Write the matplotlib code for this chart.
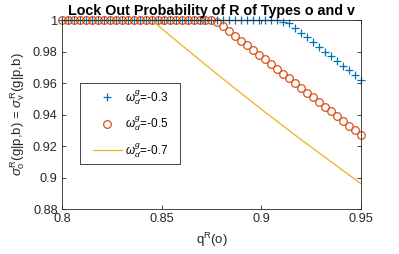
import numpy as np
import matplotlib
matplotlib.use("Agg")
import matplotlib.pyplot as plt
from matplotlib.patches import Rectangle

plt.rcParams['font.family'] = ['Liberation Sans', 'DejaVu Sans']
plt.rcParams['mathtext.fontset'] = 'custom'
plt.rcParams['mathtext.rm'] = 'Liberation Sans'
plt.rcParams['mathtext.it'] = 'Liberation Sans:italic'

# q^R(o) grid, 51 points from 0.8 to 0.95
q = np.linspace(0.8, 0.95, 51)

# omega_d^g = -0.3
lock_03 = [1.0] * 37 + [0.999, 0.998, 0.995, 0.992, 0.989, 0.986, 0.983, 0.980,
                        0.977, 0.974, 0.971, 0.968, 0.965, 0.962]
lock_03 = lock_03[-51:]

# omega_d^g = -0.5
lock_05 = [1.0] * 26 + [0.999, 0.996, 0.993, 0.990, 0.987, 0.984, 0.981, 0.978,
                        0.975, 0.972, 0.969, 0.966, 0.963, 0.960, 0.957, 0.954,
                        0.951, 0.948, 0.945, 0.942, 0.939, 0.936, 0.933, 0.930,
                        0.927]

# omega_d^g = -0.7
lock_07 = [1.0] * 16 + [0.9968, 0.9936, 0.9904, 0.9873, 0.9841, 0.9810, 0.9779,
                        0.9748, 0.9717, 0.9686, 0.9655, 0.9624, 0.9594, 0.9564,
                        0.9534, 0.9504, 0.9474, 0.9444, 0.9414, 0.9385, 0.9356,
                        0.9327, 0.9298, 0.9269, 0.9240, 0.9212, 0.9184, 0.9156,
                        0.9128, 0.9100, 0.9072, 0.9044, 0.9016, 0.8988, 0.8961]

labels = [r'$\omega^g_d$=-0.3', r'$\omega^g_d$=-0.5', r'$\omega^g_d$=-0.7']
xticks = [0.8, 0.85, 0.9, 0.95]
xticklabels = ['0.8', '0.85', '0.9', '0.95']
yticks = [0.88, 0.9, 0.92, 0.94, 0.96, 0.98, 1.0]
yticklabels = ['0.88', '0.9', '0.92', '0.94', '0.96', '0.98', '1']

fig = plt.figure(figsize=(3.99, 2.54), dpi=100)
ax = fig.add_axes([0.155, 0.177, 0.75, 0.744])

ax.plot(q, lock_03, '+', color='#0072BD', ms=5.5, mew=0.9, clip_on=False, label=labels[0])
ax.plot(q, lock_05, 'o', color='#D95319', mfc='none', ms=5.5, mew=0.9, clip_on=False, label=labels[1])
ax.plot(q, lock_07, '-', color='#EDB120', lw=0.9, label=labels[2])

ax.set_xlim(0.8, 0.95)
ax.set_ylim(0.88, 1.0)
ax.set_xticks(xticks)
ax.set_xticklabels(xticklabels)
ax.set_yticks(yticks)
ax.set_yticklabels(yticklabels)
ax.tick_params(direction='in', length=3, width=0.6, top=True, right=True,
               labelsize=9.2, colors='#262626', pad=3)
for s in ax.spines.values():
    s.set_color('#262626')
    s.set_linewidth(0.6)

ax.set_title('Lock Out Probability of R of Types o and v', fontsize=10.3,
             fontweight='bold', pad=4)
ax.set_xlabel(r'q$^\mathrm{R}$(o)', fontsize=9.5, color='#262626')
ax.set_ylabel(r'$\sigma^\mathrm{R}_\mathrm{o}$(g|p,b) = $\sigma^\mathrm{R}_\mathrm{v}$(g|p,b)',
              fontsize=9.5, color='#262626')

# legend box drawn by hand (MATLAB style padding)
ax.add_patch(Rectangle((0.06, 0.238), 0.335, 0.429, transform=ax.transAxes,
                       facecolor='white', edgecolor='#262626', lw=0.6, zorder=4))
leg = ax.legend(loc='upper left', bbox_to_anchor=(0.103, 0.64), borderaxespad=0,
                fontsize=8.5, frameon=False, handlelength=2.5,
                labelspacing=0.66, borderpad=0, handletextpad=0.25)
leg.set_zorder(5)

fig.savefig('out.png', dpi=100)
